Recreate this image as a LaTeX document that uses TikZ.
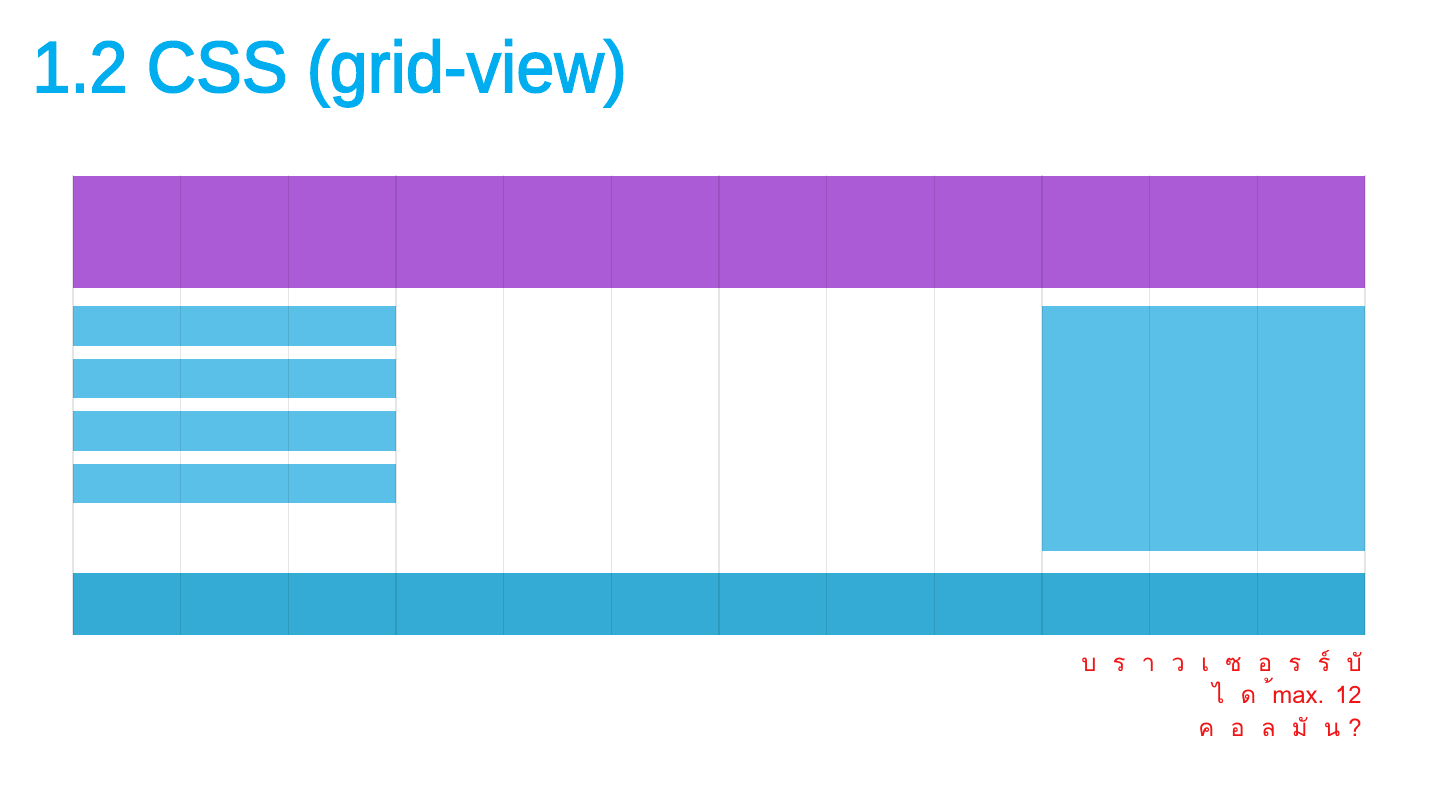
\documentclass[tikz,border=0pt]{standalone}
\usepackage{fontspec}
\setmainfont{Liberation Sans}
\newfontfamily\titlefont[FakeBold=2.2]{Liberation Sans}
\newfontfamily\thaifont[Script=Thai]{Loma}
\definecolor{titleblue}{RGB}{0,174,239}
\definecolor{headpurple}{RGB}{171,91,214}
\definecolor{lightblue}{RGB}{91,192,232}
\definecolor{footblue}{RGB}{51,171,213}
\definecolor{notered}{RGB}{240,20,20}
\tikzset{
  headbar/.style={fill=headpurple},
  bodybar/.style={fill=lightblue},
  footbar/.style={fill=footblue},
  gridline/.style={draw=black, draw opacity=0.1, line width=1.2pt},
  titletext/.style={text=titleblue, font=\titlefont\fontsize{72.6}{80}\selectfont, inner sep=0pt, anchor=base west},
  notetext/.style={text=notered, font=\thaifont\fontsize{24}{32}\selectfont, inner sep=0pt, anchor=base east}
}
\begin{document}
\begin{tikzpicture}[x=1pt,y=-1pt]
\useasboundingbox (0,0) rectangle (1440,810);
\fill[white] (0,0) rectangle (1440,810);
% title
\node[titletext] (title) at (32,92) {\scalebox{0.945}[1]{1.2 CSS (grid-view)}};
% header
\fill[headbar] (73,176) rectangle (1365,288);
% left bars
\fill[bodybar] (73,306) rectangle (396,346);
\fill[bodybar] (73,359) rectangle (396,398);
\fill[bodybar] (73,411) rectangle (396,451);
\fill[bodybar] (73,464) rectangle (396,503);
% right block
\fill[bodybar] (1042,306) rectangle (1365,551);
% footer
\fill[footbar] (73,573) rectangle (1365,635);
% grid lines
\foreach \i in {0,...,12} {
  \draw[gridline] ({73+\i*107.67},175) -- ({73+\i*107.67},635);
}
% note
\node[notetext] (n1) at (1362,671) {บ\ \ ร\ \ า\ \ ว\ \ เ\ \ ซ\ \ อ\ \ ร\ \ ร์\ \ บั};
\node[notetext] (n2) at (1362,703) {ไ\ \ ด\ \ ้max. 12};
\node[notetext] (n3) at (1362,736) {ค\ \ อ\ \ ล\ \ มั\ \ น\ ?};
\end{tikzpicture}
\end{document}
